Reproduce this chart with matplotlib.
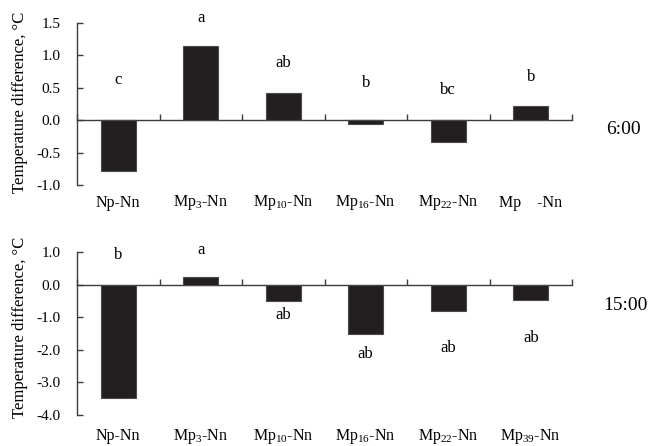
import matplotlib
matplotlib.use("Agg")
import matplotlib.pyplot as plt
import numpy as np

plt.rcParams['font.family'] = ['Liberation Serif', 'DejaVu Serif']
plt.rcParams['mathtext.fontset'] = 'custom'
plt.rcParams['mathtext.rm'] = 'Liberation Serif'
plt.rcParams['mathtext.it'] = 'Liberation Serif:italic'
plt.rcParams['axes.unicode_minus'] = False

labels_top = ['Np-Nn', r'Mp$_\mathrm{3}$-Nn', r'Mp$_\mathrm{10}$-Nn', r'Mp$_\mathrm{16}$-Nn',
              r'Mp$_\mathrm{22}$-Nn', 'Mp    -Nn']
labels_bot = ['Np-Nn', r'Mp$_\mathrm{3}$-Nn', r'Mp$_\mathrm{10}$-Nn', r'Mp$_\mathrm{16}$-Nn',
              r'Mp$_\mathrm{22}$-Nn', r'Mp$_\mathrm{39}$-Nn']

vals_6 = [-0.79, 1.15, 0.42, -0.06, -0.33, 0.22]
vals_15 = [-3.47, 0.24, -0.50, -1.52, -0.82, -0.48]

letters_6 = ['c', 'a', 'ab', 'b', 'bc', 'b']
letter_y_6 = [0.62, 1.58, 0.89, 0.57, 0.46, 0.66]
letters_15 = ['b', 'a', 'ab', 'ab', 'ab', 'ab']
letter_y_15 = [0.90, 1.06, -0.94, -2.13, -1.94, -1.64]

yticks_6 = [-1.0, -0.5, 0.0, 0.5, 1.0, 1.5]
yticks_15 = [-4.0, -3.0, -2.0, -1.0, 0.0, 1.0]

W, H = 651, 446
fig = plt.figure(figsize=(W / 100, H / 100), dpi=100)

bar_color = '#231f20'
axis_color = '#3c3c3c'


def panel(rect, vals, letters, ly, labels, yticks, label_off_px, time_txt, time_xy):
    ax = fig.add_axes(rect)
    x = np.arange(len(vals)) + 0.5
    ax.bar(x, vals, width=0.42, color=bar_color, edgecolor='#4a4a4a', linewidth=0.8, zorder=3)
    ax.set_xlim(0, len(vals))
    ax.set_ylim(yticks[0], yticks[-1])
    ax.set_yticks(yticks)
    ax.set_yticklabels([f'{t:.1f}' for t in yticks])
    ax.set_xticks(np.arange(len(vals) + 1))
    ax.set_xticklabels([])
    for s in ['top', 'right']:
        ax.spines[s].set_visible(False)
    ax.spines['bottom'].set_position(('data', 0))
    ax.spines['bottom'].set_color(axis_color)
    ax.spines['left'].set_color(axis_color)
    ax.spines['bottom'].set_linewidth(1.0)
    ax.spines['left'].set_linewidth(1.0)
    ax.tick_params(axis='x', direction='in', length=4, width=1.0, color=axis_color)
    ax.tick_params(axis='y', direction='in', length=4, width=1.0, color=axis_color,
                   labelsize=11, pad=12)
    for xi, t, yy in zip(x, letters, ly):
        ax.text(xi, yy, t, ha='center', va='center', fontsize=12)
    for xi, lab in zip(x, labels):
        ax.annotate(lab, xy=(xi, yticks[0]), xytext=(0, -label_off_px),
                    textcoords='offset pixels', ha='center', va='center', fontsize=11.5)
    fig.text(time_xy[0] / W, 1 - time_xy[1] / H, time_txt, ha='center', va='center', fontsize=14)
    return ax


left = 77 / W
width = (572 - 77) / W
ax1 = panel([left, 1 - 185 / H, width, 162 / H], vals_6, letters_6, letter_y_6, labels_top,
            yticks_6, 18, '6:00', (623, 130))
ax2 = panel([left, 1 - 415 / H, width, 163 / H], vals_15, letters_15, letter_y_15, labels_bot,
            yticks_15, 21, '15:00', (625, 305))

fig.text(20 / W, 1 - 102 / H, 'Temperature difference, \u00b0C', rotation=90,
         ha='center', va='center', fontsize=12)
fig.text(20 / W, 1 - 327 / H, 'Temperature difference, \u00b0C', rotation=90,
         ha='center', va='center', fontsize=12)

fig.savefig('out.png', dpi=100)
